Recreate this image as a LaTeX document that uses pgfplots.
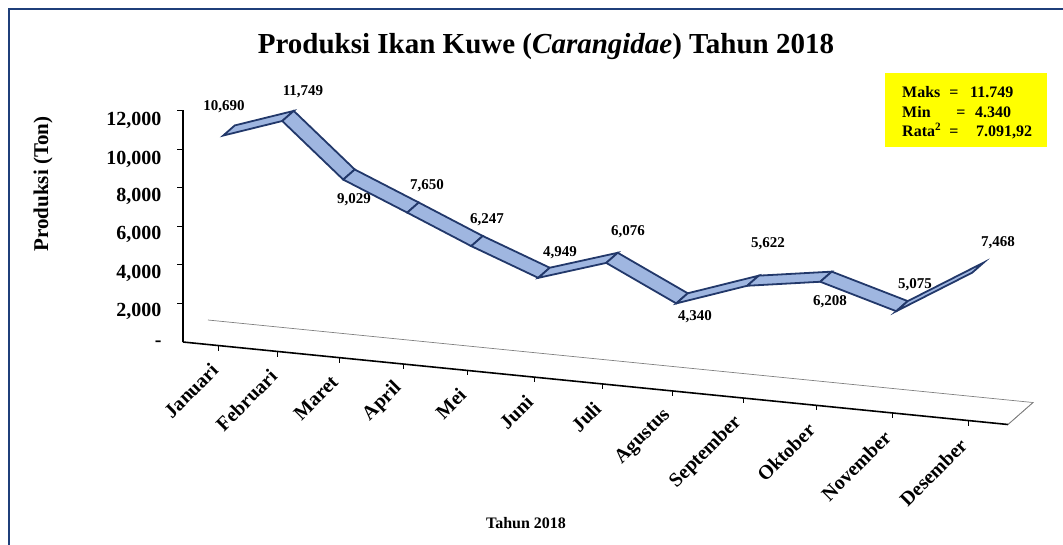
\documentclass[border=0pt]{standalone}
\usepackage{fontspec}
\setmainfont{Liberation Serif}
\usepackage{pgfplots}
\pgfplotsset{compat=1.18}
\definecolor{ribfill}{HTML}{9FB6E0}
\definecolor{ribedge}{HTML}{22386A}
\definecolor{framec}{HTML}{1F3F7A}
\definecolor{legy}{HTML}{FFFF00}
\begin{document}
\begin{tikzpicture}
\begin{axis}[
  at={(0pt,0pt)}, anchor=origin,
  x={(1pt,-0.1pt)}, y={(25pt,22pt)}, z={(0pt,0.0193pt)},
  xmin=-36, xmax=789, ymin=0, ymax=1, zmin=0, zmax=12000,
  axis lines=left,
  axis line style={-},
  x axis line style={line width=1.6pt, black},
  z axis line style={line width=1.6pt, black},
  y axis line style={line width=0.7pt, gray},
  xtick={0,59,120,184,248,315,383,453,524,597,673,749},
  xticklabels={Januari,Februari,Maret,April,Mei,Juni,Juli,Agustus,September,Oktober,November,Desember},
  ytick=\empty,
  ztick={0,2000,4000,6000,8000,10000,12000},
  zticklabels={-,{2,000},{4,000},{6,000},{8,000},{10,000},{12,000}},
  scaled z ticks=false,
  major tick length=0pt,
  x tick label style={yshift=-19pt, xshift=-2pt, rotate=45, anchor=east, font=\bfseries\fontsize{20}{22}\selectfont},
  z tick label style={font=\bfseries\fontsize{20}{22}\selectfont, xshift=-18pt},
  clip=false,
]
\draw[gray, line width=0.7pt] (axis cs:-36,1,0) -- (axis cs:789,1,0) -- (axis cs:789,0,0);
\pgfplotsinvokeforeach{2000,4000,6000,8000,10000,12000}{\draw[black, line width=1pt] (axis cs:-36,0,#1) -- ++(-6pt,0pt);}
\pgfplotsinvokeforeach{0,59,120,184,248,315,383,453,524,597,673,749}{\draw[black, line width=1pt] (axis cs:#1,0,0) -- ++(0pt,-5pt);}
\addplot3[surf, shader=faceted, faceted color=ribedge, line width=1.8pt, mesh/rows=2,
  colormap={rib}{color=(ribfill) color=(ribfill)}] table {
x y z
0 0.17 10690
59 0.17 11749
120 0.17 9029
184 0.17 7650
248 0.17 6247
315 0.17 4949
383 0.17 6076
453 0.17 4340
524 0.17 5622
597 0.17 6208
673 0.17 5075
749 0.17 7468

0 0.63 10690
59 0.63 11749
120 0.63 9029
184 0.63 7650
248 0.63 6247
315 0.63 4949
383 0.63 6076
453 0.63 4340
524 0.63 5622
597 0.63 6208
673 0.63 5075
749 0.63 7468
};
\end{axis}
\begin{scope}[x=1pt, y=-1pt, shift={(-219pt,345.6pt)}]
\draw[framec, line width=2.5pt] (9,600) -- (9,9) -- (1100,9);
\node[font=\bfseries\fontsize{29}{32}\selectfont] at (546,47) {Produksi Ikan Kuwe (\textit{Carangidae}) Tahun 2018};
\node[rotate=90, font=\bfseries\fontsize{21}{23}\selectfont] at (43,184) {Produksi (Ton)};
\node[font=\bfseries\fontsize{16}{18}\selectfont] at (526,523) {Tahun 2018};
\fill[legy] (885,73) rectangle (1047,147);
\begin{scope}[font=\bfseries\fontsize{16}{18}\selectfont, inner sep=0pt]
\node[anchor=base west] at (902,98) {Maks};
\node[anchor=base] at (954,98) {=};
\node[anchor=base west] at (970,98) {11.749};
\node[anchor=base west] at (902,118) {Min};
\node[anchor=base] at (961,118) {=};
\node[anchor=base west] at (975,118) {4.340};
\node[anchor=base west] at (902,137) {Rata\textsuperscript{2}};
\node[anchor=base] at (954,137) {=};
\node[anchor=base west] at (976,137) {7.091,92};
\end{scope}
\begin{scope}[font=\bfseries\fontsize{15}{17}\selectfont]
\node at (224,107) {10,690};
\node at (303,92) {11,749};
\node at (354,200) {9,029};
\node at (427,186) {7,650};
\node at (487,220) {6,247};
\node at (560,253) {4,949};
\node at (628,232) {6,076};
\node at (695,317) {4,340};
\node at (768,244) {5,622};
\node at (830,302) {6,208};
\node at (915,285) {5,075};
\node at (998,243) {7,468};
\end{scope}
\pgfresetboundingbox
\useasboundingbox (0,0) rectangle (1063,544);
\end{scope}
\end{tikzpicture}
\end{document}
